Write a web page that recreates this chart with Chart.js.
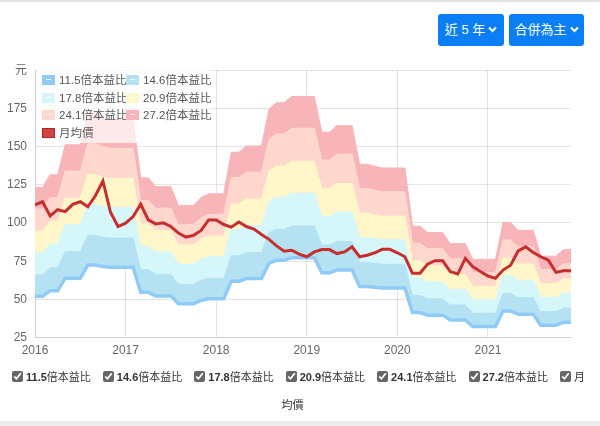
<!DOCTYPE html>
<html>
<head>
<meta charset="utf-8">
<script src="https://cdn.jsdelivr.net/npm/chart.js@4.4.1/dist/chart.umd.min.js"></script>
<style>
  body { margin: 0; width: 600px; height: 426px; position: relative; overflow: hidden; background: #fff;
         font-family: "Liberation Sans", "Noto Sans CJK TC", sans-serif; }
  .topline { position: absolute; left: 0; top: 0; width: 600px; height: 2px; background: #e2e2e2; }
  .bottomline { position: absolute; left: 0; top: 421px; width: 600px; height: 5px; background: #ececec; }
  .btn { position: absolute; top: 14px; height: 32px; line-height: 32px; background: #0a7ff5; color: #fff;
         border-radius: 3px; font-size: 13px; text-align: center; box-sizing: border-box; }
  .btn svg { vertical-align: middle; margin-left: 3px; margin-top: -2px; }
  #chartBox { position: absolute; left: 0; top: 55px; width: 600px; height: 313px; }
  #legend { position: absolute; left: 36px; top: 67px; width: 174px; height: 76px; background: rgba(255,255,255,0.7); }
  .item { position: absolute; font-size: 11.5px; color: #555; line-height: 14px; white-space: nowrap; }
  .sw { display: inline-block; width: 11px; height: 8px; border: 1px solid; vertical-align: -1px; margin-right: 4px; position: relative; }
  .sw i { position: absolute; left: 3px; top: 3px; width: 5px; height: 1px; background: #fff; }
  #toggles { position: absolute; left: 0; top: 363px; width: 591px; text-align: center; font-size: 11px; line-height: 28px; color: #333; }
  #toggles label { margin: 0 6px; }
  #toggles input { accent-color: #666; width: 11px; height: 11px; margin: 0 3px 0 0; vertical-align: -1px; }
  #toggles b { font-weight: bold; }
</style>
</head>
<body>
<div class="topline"></div>
<div class="btn" style="left:438px;width:66px;">近 5 年<svg width="9" height="7" viewBox="0 0 9 7"><path d="M1 1.5 L4.5 5 L8 1.5" stroke="#fff" stroke-width="2" fill="none"/></svg></div>
<div class="btn" style="left:509px;width:75px;">合併為主<svg width="9" height="7" viewBox="0 0 9 7"><path d="M1 1.5 L4.5 5 L8 1.5" stroke="#fff" stroke-width="2" fill="none"/></svg></div>
<div id="chartBox"><canvas id="riverChart"></canvas></div>
<div id="legend"></div>
<div id="toggles"></div>
<div class="bottomline"></div>
<script>
// x axis: one point per month, Jan 2016 .. Dec 2021
const yearTicks = [2016, 2017, 2018, 2019, 2020, 2021];

const bandLabels = ['11.5倍本益比', '14.6倍本益比', '17.8倍本益比', '20.9倍本益比', '24.1倍本益比', '27.2倍本益比'];
const priceLabel = '月均價';

// band values (元)
const pe115 = [52.1, 52.1, 55.7, 55.7, 63.9, 63.9, 63.9, 72.5, 72.5, 71.5, 71.1, 71.1, 71.1, 71.1, 54.7, 54.7, 52.3, 52.3, 52.3, 47.2, 47.2, 47.2, 49.3, 50.4,
  50.4, 50.4, 61.9, 61.9, 63.6, 63.6, 63.6, 73.8, 75.6, 75.6, 77.3, 77.3, 77.3, 77.3, 67.4, 67.4, 69.2, 69.2, 69.2, 58.5, 58.5, 58.0, 57.5, 57.5,
  57.5, 57.5, 41.4, 41.4, 39.7, 39.7, 39.7, 36.6, 36.6, 36.6, 32.2, 32.2, 32.2, 32.2, 42.4, 42.4, 40.3, 40.3, 40.3, 33.1, 33.1, 33.1, 35.0, 35.0];
const pe146 = [66.1, 66.1, 70.7, 70.7, 81.2, 81.2, 81.2, 92.0, 92.0, 90.8, 90.2, 90.2, 90.2, 90.2, 69.5, 69.5, 66.4, 66.4, 66.4, 59.9, 59.9, 59.9, 62.6, 63.9,
  63.9, 63.9, 78.5, 78.5, 80.7, 80.7, 80.7, 93.7, 95.9, 95.9, 98.1, 98.1, 98.1, 98.1, 85.6, 85.6, 87.9, 87.9, 87.9, 74.3, 74.3, 73.6, 73.0, 73.0,
  73.0, 73.0, 52.6, 52.6, 50.4, 50.4, 50.4, 46.4, 46.4, 46.4, 40.9, 40.9, 40.9, 40.9, 53.9, 53.9, 51.1, 51.1, 51.1, 42.0, 42.0, 42.0, 44.4, 44.4];
const pe178 = [80.6, 80.6, 86.2, 86.2, 99.0, 99.0, 99.0, 112.1, 112.1, 110.7, 110.0, 110.0, 110.0, 110.0, 84.7, 84.7, 81.0, 81.0, 81.0, 73.0, 73.0, 73.0, 76.4, 78.0,
  78.0, 78.0, 95.8, 95.8, 98.4, 98.4, 98.4, 114.3, 116.9, 116.9, 119.6, 119.6, 119.6, 119.6, 104.3, 104.3, 107.2, 107.2, 107.2, 90.6, 90.6, 89.7, 89.0, 89.0,
  89.0, 89.0, 64.1, 64.1, 61.4, 61.4, 61.4, 56.6, 56.6, 56.6, 49.8, 49.8, 49.8, 49.8, 65.7, 65.7, 62.3, 62.3, 62.3, 51.3, 51.3, 51.3, 54.1, 54.1];
const pe209 = [94.7, 94.7, 101.2, 101.2, 116.2, 116.2, 116.2, 131.7, 131.7, 130.0, 129.2, 129.2, 129.2, 129.2, 99.5, 99.5, 95.1, 95.1, 95.1, 85.7, 85.7, 85.7, 89.7, 91.5,
  91.5, 91.5, 112.4, 112.4, 115.6, 115.6, 115.6, 134.2, 137.3, 137.3, 140.4, 140.4, 140.4, 140.4, 122.5, 122.5, 125.8, 125.8, 125.8, 106.4, 106.4, 105.3, 104.5, 104.5,
  104.5, 104.5, 75.2, 75.2, 72.1, 72.1, 72.1, 66.5, 66.5, 66.5, 58.5, 58.5, 58.5, 58.5, 77.1, 77.1, 73.2, 73.2, 73.2, 60.2, 60.2, 60.2, 63.5, 63.5];
const pe241 = [109.2, 109.2, 116.6, 116.6, 134.0, 134.0, 134.0, 151.8, 151.8, 149.9, 148.9, 148.9, 148.9, 148.9, 114.7, 114.7, 109.7, 109.7, 109.7, 98.8, 98.8, 98.8, 103.4, 105.6,
  105.6, 105.6, 129.7, 129.7, 133.3, 133.3, 133.3, 154.7, 158.3, 158.3, 162.0, 162.0, 162.0, 162.0, 141.2, 141.2, 145.1, 145.1, 145.1, 122.7, 122.7, 121.5, 120.5, 120.5,
  120.5, 120.5, 86.8, 86.8, 83.1, 83.1, 83.1, 76.6, 76.6, 76.6, 67.5, 67.5, 67.5, 67.5, 88.9, 88.9, 84.4, 84.4, 84.4, 69.4, 69.4, 69.4, 73.3, 73.3];
const pe272 = [123.2, 123.2, 131.6, 131.6, 151.2, 151.2, 151.2, 171.4, 171.4, 169.2, 168.1, 168.1, 168.1, 168.1, 129.5, 129.5, 123.8, 123.8, 123.8, 111.5, 111.5, 111.5, 116.7, 119.1,
  119.1, 119.1, 146.3, 146.3, 150.4, 150.4, 150.4, 174.6, 178.7, 178.7, 182.8, 182.8, 182.8, 182.8, 159.4, 159.4, 163.7, 163.7, 163.7, 138.4, 138.4, 137.1, 136.0, 136.0,
  136.0, 136.0, 97.9, 97.9, 93.8, 93.8, 93.8, 86.5, 86.5, 86.5, 76.2, 76.2, 76.2, 76.2, 100.4, 100.4, 95.2, 95.2, 95.2, 78.3, 78.3, 78.3, 82.7, 82.7];

// monthly average price
const avgPrice = [111.9, 113.9, 104.6, 108.7, 107.4, 112.2, 113.9, 110.6, 117.8, 127.5, 107.0, 97.7, 99.9, 104.2, 112.4, 102.0, 99.4, 100.1, 97.7, 93.4, 90.8, 91.9, 95.1, 102.0,
  102.0, 99.0, 97.3, 100.7, 97.7, 96.0, 92.5, 89.3, 85.0, 81.5, 82.2, 79.6, 77.9, 81.1, 82.6, 82.6, 80.0, 81.1, 84.4, 77.9, 78.9, 80.5, 82.8, 82.8,
  80.5, 77.9, 67.1, 67.1, 73.1, 75.3, 75.3, 68.2, 66.6, 76.8, 71.4, 68.2, 65.3, 63.8, 69.2, 72.4, 81.7, 84.4, 80.7, 77.9, 75.7, 67.7, 68.8, 68.8];

const bandColors = ['#90cbf7', '#b5e2f3', '#d6f7fa', '#fff6c9', '#ffd7cc', '#f8b5b9'];
const priceColor = '#c62f2f';

const toPoints = arr => arr.map((v, i) => ({ x: i, y: v }));

document.addEventListener('DOMContentLoaded', () => {
    buildLegend();
    buildToggles();
    initChart();
});

function initChart() {
    const ctx = document.getElementById('riverChart').getContext('2d');
    Chart.defaults.font.family = "'Liberation Sans', 'Noto Sans CJK TC', sans-serif";
    Chart.defaults.font.size = 12;
    Chart.defaults.color = '#666';

    const bands = [pe115, pe146, pe178, pe209, pe241, pe272];
    const datasets = [{
        label: priceLabel,
        data: toPoints(avgPrice),
        borderColor: priceColor,
        backgroundColor: priceColor,
        borderWidth: 3,
        fill: false
    }];
    bands.forEach((arr, k) => {
        datasets.push({
            label: bandLabels[k],
            data: toPoints(arr),
            borderColor: bandColors[k],
            backgroundColor: bandColors[k],
            borderWidth: k === 0 ? 3.5 : 1,
            fill: k === 0 ? false : '-1'
        });
    });

    new Chart(ctx, {
        type: 'line',
        data: { datasets },
        options: {
            responsive: true,
            maintainAspectRatio: false,
            animation: false,
            layout: { padding: { left: 0, right: 29, top: 11, bottom: 4 } },
            elements: { point: { radius: 0 }, line: { tension: 0 } },
            plugins: { legend: { display: false }, tooltip: { enabled: false } },
            scales: {
                x: {
                    type: 'linear',
                    min: 0,
                    max: 71,
                    afterBuildTicks: scale => {
                        scale.ticks = yearTicks.map((y, i) => ({ value: i * 12 }));
                    },
                    ticks: { padding: 6, maxRotation: 0, callback: (v, i) => yearTicks[i] },
                    grid: { color: 'rgba(0,0,0,0.1)', drawTicks: false }
                },
                y: {
                    min: 25,
                    max: 200,
                    afterFit: scale => { scale.width = 35; },
                    ticks: { stepSize: 25, padding: 8, callback: v => (v === 200 ? '元' : v) },
                    grid: { color: 'rgba(0,0,0,0.1)', drawTicks: false }
                }
            }
        }
    });
}

function buildLegend() {
    const legend = document.getElementById('legend');
    const items = bandLabels.map((l, k) => ({ label: l, color: bandColors[k], dash: true }));
    items.push({ label: priceLabel, color: '#d04444', border: '#b52222', dash: false });
    items.forEach((it, i) => {
        const div = document.createElement('div');
        div.className = 'item';
        div.style.left = (6 + (i % 2) * 84) + 'px';
        div.style.top = (6 + Math.floor(i / 2) * 17.7) + 'px';
        div.innerHTML = `<span class="sw" style="background:${it.color};border-color:${it.border || it.color}">${it.dash ? '<i></i>' : ''}</span>${it.label}`;
        legend.appendChild(div);
    });
}

function buildToggles() {
    const box = document.getElementById('toggles');
    const labels = [...bandLabels, priceLabel];
    box.innerHTML = labels.map((l, i) => {
        const m = l.match(/^([\d.]+)(.*)$/);
        let text = m ? `<b>${m[1]}</b>${m[2]}` : l;
        if (i === labels.length - 1) text = l.charAt(0) + '<br>' + l.slice(1);
        return `<label><input type="checkbox" checked>${text}</label>`;
    }).join('');
}
</script>
</body>
</html>
